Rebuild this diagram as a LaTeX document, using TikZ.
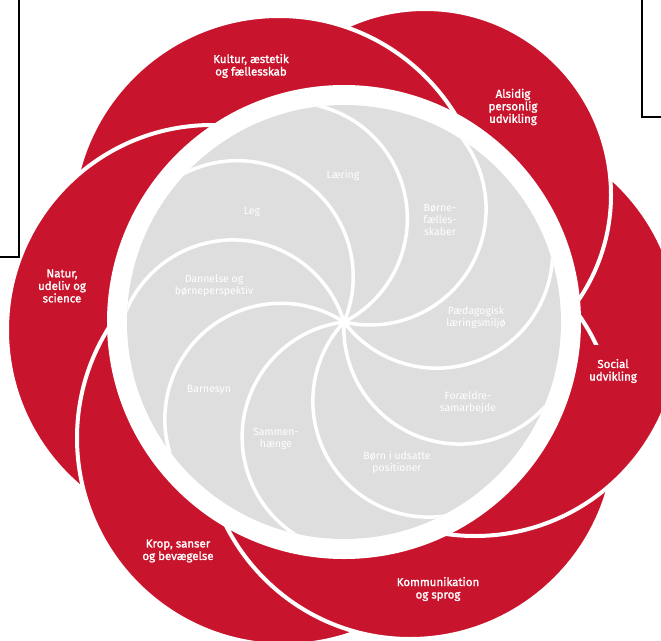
\documentclass[tikz,border=0pt]{standalone}
\usepackage{fontspec}
\setmainfont{Fira Sans}
\newfontfamily\outerfont[FakeBold=1.5]{Fira Sans}
\definecolor{petal}{RGB}{200,20,44}
\definecolor{disc}{RGB}{222,222,222}
\begin{document}
\begin{tikzpicture}[x=1pt,y=1pt,
  petalstyle/.style={fill=petal, draw=white, line width=4pt},
  swirl/.style={draw=white, line width=3.5pt},
  outerlabel/.style={text=white, align=center, inner sep=0pt, font=\outerfont\fontsize{11.5}{12.5}\selectfont},
  innerlabel/.style={text=white, align=center, inner sep=0pt, font=\fontsize{10.5}{12}\selectfont},
  frameline/.style={draw=black, line width=1.3pt}]
\useasboundingbox (0,0) rectangle (661,-640);
\clip (0,0) rectangle (661,-640);
% petals (each over its clockwise neighbour)
\path[petalstyle] (475,-331) circle[radius=205]; % Social
\path[petalstyle] (425,-195) circle[radius=186]; % Alsidig
\path[petalstyle] (279,-223) circle[radius=207]; % Kultur
\path[petalstyle] (212,-330) circle[radius=205]; % Natur
\path[petalstyle] (284,-438) circle[radius=207]; % Krop
\path[petalstyle] (410,-433) circle[radius=206]; % Kommunikation
\begin{scope}
  \clip (300,-345) rectangle (700,-700);
  \path[petalstyle] (475,-331) circle[radius=205]; % Social again over Kommunikation
\end{scope}
% white ring and grey disc
\fill[white] (344,-322) circle[radius=237];
\fill[disc] (344,-322) circle[radius=217];
\begin{scope}
  \clip (344,-322) circle[radius=217];
  \foreach \a in {-3,37,...,317}
    \draw[swirl] (344,-322) arc[start angle=\a+180, delta angle=145, radius=116];
\end{scope}
% outer labels
\node[outerlabel] (kultur) at (251,-66) {Kultur, æstetik\\og fællesskab};
\node[outerlabel] (alsidig) at (513,-107) {Alsidig\\personlig\\udvikling};
\node[outerlabel] (social) at (613,-371) {Social\\udvikling};
\node[outerlabel] (komm) at (438,-589) {Kommunikation\\og sprog};
\node[outerlabel] (krop) at (178,-551) {Krop, sanser\\og bevægelse};
\node[outerlabel] (natur) at (62,-286) {Natur,\\udeliv og\\science};
% inner labels
\node[innerlabel] (laering) at (343,-176) {Læring};
\node[innerlabel] (boernef) at (440,-220) {Børne-\\fælles-\\skaber};
\node[innerlabel] (leg) at (252,-212) {Leg};
\node[innerlabel] (dannelse) at (214,-286) {Dannelse og\\børneperspektiv};
\node[innerlabel] (paed) at (476,-318) {Pædagogisk\\læringsmiljø};
\node[innerlabel] (foraeldre) at (468,-403) {Forældre-\\samarbejde};
\node[innerlabel] (udsatte) at (397,-463) {Børn i udsatte\\positioner};
\node[innerlabel] (barnesyn) at (209,-390) {Barnesyn};
\node[innerlabel] (sammen) at (276,-439) {Sammen-\\hænge};
% frame corners
\draw[frameline] (19,0) -- (19,-257) -- (0,-257);
\draw[frameline] (642,0) -- (642,-117) -- (661,-117);
\end{tikzpicture}
\end{document}
